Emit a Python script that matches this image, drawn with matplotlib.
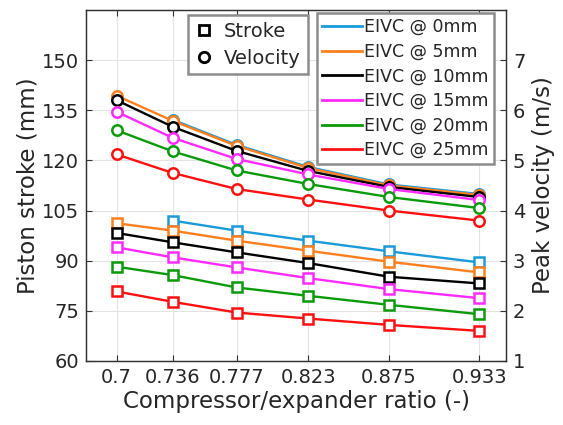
import matplotlib
matplotlib.use("Agg")
import matplotlib.pyplot as plt
from matplotlib.lines import Line2D

plt.rcParams["font.family"] = ["DejaVu Sans"]

ratio = [0.7, 0.736, 0.777, 0.823, 0.875, 0.933]
ratio_labels = ["0.7", "0.736", "0.777", "0.823", "0.875", "0.933"]
eivc_labels = ["EIVC @ 0mm", "EIVC @ 5mm", "EIVC @ 10mm",
               "EIVC @ 15mm", "EIVC @ 20mm", "EIVC @ 25mm"]
colors = ["#1b9ad8", "#ff7f1e", "#000000", "#ff2bff", "#0a9a0a", "#ff1010"]

# piston stroke (mm); the 0 mm case has no point at 0.7
stroke = [
    [None, 102.0, 99.0, 96.0, 92.8, 89.5],
    [101.2, 99.0, 96.0, 93.0, 89.7, 86.5],
    [98.3, 95.5, 92.5, 89.3, 85.2, 83.2],
    [94.0, 91.0, 88.0, 84.8, 81.5, 78.8],
    [88.2, 85.7, 82.0, 79.5, 76.8, 74.0],
    [80.8, 77.7, 74.5, 72.7, 70.8, 69.0],
]

# peak velocity (m/s)
velocity = [
    [None, 5.81, 5.31, 4.87, 4.52, 4.33],
    [6.29, 5.79, 5.29, 4.85, 4.50, 4.31],
    [6.20, 5.67, 5.19, 4.79, 4.47, 4.27],
    [5.97, 5.45, 5.03, 4.72, 4.43, 4.21],
    [5.60, 5.18, 4.80, 4.53, 4.27, 4.05],
    [5.12, 4.75, 4.43, 4.22, 4.00, 3.80],
]

text_c = "#262626"

fig = plt.figure(figsize=(5.63, 4.25), dpi=100)
ax = fig.add_axes([0.1528, 0.1506, 0.7460, 0.8259])
ax2 = ax.twinx()

for i, c in enumerate(colors):
    xs = [x for x, v in zip(ratio, stroke[i]) if v is not None]
    ys = [v for v in stroke[i] if v is not None]
    ax.plot(xs, ys, color=c, lw=1.7, marker="s", ms=6.5, mew=1.8,
            mfc="white", mec=c, zorder=3)
    xs = [x for x, v in zip(ratio, velocity[i]) if v is not None]
    ys = [v for v in velocity[i] if v is not None]
    ax2.plot(xs, ys, color=c, lw=1.7, marker="o", ms=7.5, mew=1.8,
             mfc="white", mec=c, zorder=3)

ax.set_xlim(0.6803, 0.9502)
ax.set_ylim(60, 165)
ax.set_yticks([60, 75, 90, 105, 120, 135, 150])
ax.set_xticks(ratio)
ax.set_xticklabels(ratio_labels)
ax2.set_ylim(1, 8)
ax2.set_yticks([1, 2, 3, 4, 5, 6, 7])

ax.grid(True, color="#e3e3e3", lw=0.8)
ax.set_axisbelow(True)

for a in (ax, ax2):
    for s in a.spines.values():
        s.set_color("#333333")
        s.set_linewidth(0.9)
ax.tick_params(axis="both", direction="in", length=4, width=0.8,
               colors="#333333", labelcolor=text_c, labelsize=14,
               top=True, pad=5)
ax2.tick_params(axis="y", direction="in", length=4, width=0.8,
                colors="#333333", labelcolor=text_c, labelsize=14, pad=5)

ax.set_xlabel("Compressor/expander ratio (-)", fontsize=16.5, color=text_c,
              labelpad=2)
ax.set_ylabel("Piston stroke (mm)", fontsize=16.5, color=text_c, labelpad=2)
ax2.set_ylabel("Peak velocity (m/s)", fontsize=16.5, color=text_c,
               labelpad=5)

# marker-type legend
kind = [
    Line2D([], [], ls="none", marker="s", ms=6.5, mew=2, mfc="white",
           mec="black", label="Stroke"),
    Line2D([], [], ls="none", marker="o", ms=7.5, mew=2, mfc="white",
           mec="black", label="Velocity"),
]
leg1 = ax2.legend(handles=kind, loc="upper left",
                  bbox_to_anchor=(188 / 563, 1 - 15 / 425),
                  bbox_transform=fig.transFigure, fontsize=14,
                  handlelength=0.9, handletextpad=0.6, borderpad=0.35,
                  labelspacing=0.4, fancybox=False, framealpha=1,
                  borderaxespad=0)
leg1.get_frame().set_edgecolor("#8c8c8c")
leg1.get_frame().set_linewidth(1.8)
for t in leg1.get_texts():
    t.set_color(text_c)
ax2.add_artist(leg1)

# EIVC line legend
handles = [Line2D([], [], color=c, lw=2) for c in colors]
leg2 = ax2.legend(handles, eivc_labels, loc="upper left",
                  bbox_to_anchor=(317 / 563, 1 - 13 / 425),
                  bbox_transform=fig.transFigure, fontsize=12.5,
                  handlelength=2.3, handletextpad=0.1, borderpad=0.3,
                  labelspacing=0.38, fancybox=False, framealpha=1,
                  borderaxespad=0)
leg2.get_frame().set_edgecolor("#8c8c8c")
leg2.get_frame().set_linewidth(1.8)
for t in leg2.get_texts():
    t.set_color(text_c)

fig.savefig("out.png", dpi=100)
